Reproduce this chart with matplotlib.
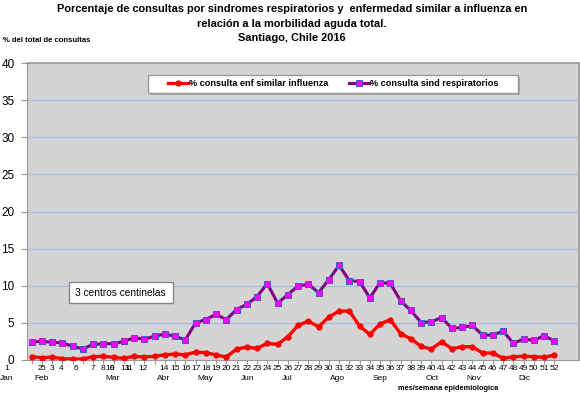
import matplotlib
matplotlib.use("Agg")
import matplotlib.pyplot as plt
import matplotlib.transforms as mtransforms
from matplotlib.patches import Rectangle

plt.rcParams['font.family'] = ['Liberation Sans', 'DejaVu Sans']

weeks = list(range(1, 53))
ili = [0.45, 0.3, 0.4, 0.18, 0.13, 0.13, 0.45, 0.5, 0.36, 0.22,
       0.5, 0.4, 0.5, 0.7, 0.8, 0.7, 1.05, 1.0, 0.67, 0.4,
       1.47, 1.74, 1.57, 2.24, 2.1, 3.13, 4.65, 5.23, 4.47, 5.8,
       6.57, 6.6, 4.56, 3.44, 4.85, 5.43, 3.54, 2.86, 1.83, 1.47,
       2.46, 1.52, 1.79, 1.79, 0.94, 0.94, 0.22, 0.45, 0.5, 0.45,
       0.36, 0.67]
resp = [2.46, 2.5, 2.4, 2.3, 1.85, 1.5, 2.1, 2.2, 2.2, 2.5,
        3.0, 2.8, 3.2, 3.5, 3.2, 2.7, 5.0, 5.45, 6.15, 5.45,
        6.8, 7.5, 8.55, 10.3, 7.65, 8.8, 9.97, 10.2, 9.08, 10.83,
        12.75, 10.7, 10.56, 8.37, 10.43, 10.32, 7.96, 6.67, 5.05, 5.14,
        5.72, 4.25, 4.38, 4.65, 3.36, 3.36, 3.9, 2.24, 2.82, 2.64,
        3.27, 2.55]

week_labels = ['1', '2', '5', '3', '4', '6', '7', '8', '10', '9', '13', '11', '12',
               '14', '15', '16'] + [str(w) for w in range(17, 53)]
week_label_pos = [-1.39, 1.85, 2.12, 2.97, 3.88, 5.32, 6.98, 7.95, 8.68, 8.88,
                  10.15, 10.5, 11.9, 13.94, 15.0, 16.06] + list(range(17, 53))
months = ['Jan', 'Feb', 'Mar', 'Abr', 'May', 'Jun', 'Jul', 'Ago', 'Sep', 'Oct', 'Nov', 'Dic']
month_pos = [-1.39, 2.0, 8.96, 13.84, 17.94, 22.04, 25.95, 30.83, 35.03, 40.1, 44.1, 49.1]

W, H = 580, 396
fig = plt.figure(figsize=(W / 100, H / 100), dpi=100)
ax = fig.add_axes([27 / W, 1 - 360 / H, (579 - 27) / W, (360 - 63) / H])
ax.set_facecolor('#d4d4d4')
ax.set_xlim(0.56, 54.4)
ax.set_ylim(0, 40)
ax.set_yticks(range(0, 41, 5))
ax.set_yticklabels([str(v) for v in range(0, 41, 5)], fontsize=8.5)
for v in range(5, 40, 5):
    ax.axhline(v, color='#a9b8e6', lw=0.9, zorder=1)
for s in ['top', 'right']:
    ax.spines[s].set_color('#999999')
    ax.spines[s].set_linewidth(1.2)
ax.spines['left'].set_color('#999999')
ax.spines['bottom'].set_color('#999999')
ax.tick_params(axis='y', length=4, color='#999999', pad=5)
ax.set_xticks(weeks)
ax.set_xticklabels([])
ax.tick_params(axis='x', length=3, color='#999999')

l1, = ax.plot(weeks, ili, color='#ff0000', lw=2.4, marker='o', ms=3.5,
              mfc='#ff0000', mec='#ff0000', zorder=3,
              label='% consulta enf similar influenza')
l2, = ax.plot(weeks, resp, color='#800080', lw=2.2, marker='s', ms=4.5,
              mfc='#ff00ff', mec='#5050c0', mew=0.7, zorder=4,
              label='% consulta sind respiratorios')

trans = mtransforms.blended_transform_factory(ax.transData, fig.transFigure)
for lab, p in zip(week_labels, week_label_pos):
    ax.text(p, 1 - 369 / H, lab, transform=trans, ha='center', va='center',
            fontsize=6, clip_on=False)
for lab, p in zip(months, month_pos):
    ax.text(p, 1 - 378.5 / H, lab, transform=trans, ha='center', va='center',
            fontsize=6, clip_on=False)

fig.text(448 / W, 1 - 388 / H, 'mes/semana epidemiologica', ha='center', va='center',
         fontsize=5.3, fontweight='bold')
fig.text(3 / W, 1 - 40 / H, '% del total de consultas', ha='left', va='center',
         fontsize=5.5, fontweight='bold')

fig.text(292 / W, 1 - 9.5 / H, 'Porcentaje de consultas por sindromes respiratorios y  enfermedad similar a influenza en',
         ha='center', va='center', fontsize=7.9, fontweight='bold')
fig.text(292 / W, 1 - 24 / H, 'relación a la morbilidad aguda total.',
         ha='center', va='center', fontsize=7.9, fontweight='bold')
fig.text(292 / W, 1 - 38 / H, 'Santiago, Chile 2016',
         ha='center', va='center', fontsize=7.9, fontweight='bold')

# legend box (drawn separately) + legend content centered in it
fig.patches.append(Rectangle((150 / W, 1 - 95 / H), (520 - 150) / W, (95 - 77) / H,
                             transform=fig.transFigure, facecolor='#a8a8a8',
                             edgecolor='none', zorder=4))
fig.patches.append(Rectangle((148 / W, 1 - 93 / H), (518 - 148) / W, (93 - 75) / H,
                             transform=fig.transFigure, facecolor='white',
                             edgecolor='#999999', lw=1.0, zorder=5))
leg = fig.legend(handles=[l1, l2], loc='center',
                 bbox_to_anchor=(333 / W, 1 - 84 / H),
                 ncol=2, fontsize=6.6, frameon=False,
                 borderpad=0.0, handlelength=2.2, handletextpad=0.1, columnspacing=2.2)
leg.set_zorder(6)
for t in leg.get_texts():
    t.set_fontweight('bold')

# annotation box
fig.patches.append(Rectangle((69 / W, 1 - 303 / H), (173 - 69) / W, (303 - 282) / H,
                             transform=fig.transFigure, facecolor='white',
                             edgecolor='#888888', lw=1.0, zorder=5))
fig.text(75 / W, 1 - 292.5 / H, '3 centros centinelas', ha='left', va='center',
         fontsize=7.3, zorder=6)

fig.savefig('out.png', dpi=100)
